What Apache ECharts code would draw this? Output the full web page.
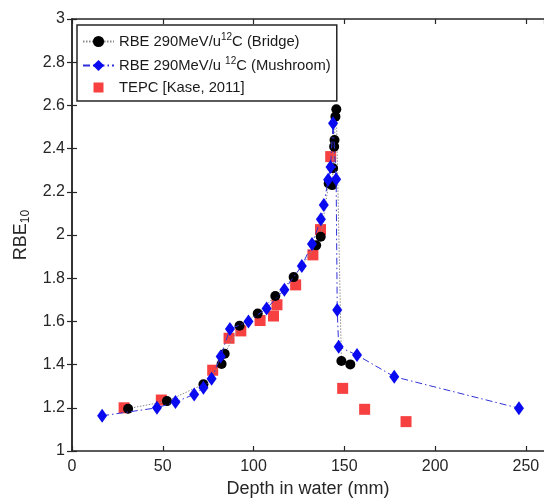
<!DOCTYPE html>
<html><head><meta charset="utf-8">
<script src="https://cdn.jsdelivr.net/npm/echarts@6/dist/echarts.min.js"></script>
<style>html,body{margin:0;padding:0;background:#fff}#c{width:544px;height:504px}</style>
</head><body><div id="c"></div>
<script>
const xTicks = [0, 50, 100, 150, 200, 250];
const yTicks = [1, 1.2, 1.4, 1.6, 1.8, 2, 2.2, 2.4, 2.6, 2.8, 3];
const seriesNames = ['Bridge', 'Mushroom', 'TEPC'];
const bridgeDepth = [30.9, 52.3, 72.4, 82.4, 84.1, 92.3, 102.3, 112.0, 122.1, 134.5, 137.0, 141.4, 143.3, 143.8, 144.4, 144.6, 145.1, 145.6, 148.4, 153.3];
const bridgeRBE   = [1.196, 1.231, 1.309, 1.403, 1.450, 1.580, 1.636, 1.718, 1.805, 1.952, 1.992, 2.239, 2.231, 2.309, 2.409, 2.440, 2.548, 2.582, 1.417, 1.401];
const mushDepth = [16.6, 46.8, 57.0, 67.3, 72.4, 76.9, 81.9, 87.0, 97.2, 107.2, 117.0, 126.6, 132.2, 137.1, 138.7, 141.1, 142.4, 143.8, 145.5, 146.1, 146.9, 157.0, 177.5, 246.2];
const mushRBE   = [1.163, 1.200, 1.227, 1.262, 1.293, 1.335, 1.438, 1.565, 1.600, 1.660, 1.747, 1.857, 1.958, 2.073, 2.139, 2.256, 2.315, 2.517, 2.258, 1.653, 1.483, 1.444, 1.344, 1.198];
const tepcDepth = [28.7, 49.2, 77.5, 86.5, 93.0, 103.6, 111.0, 112.9, 123.2, 132.7, 136.9, 142.5, 149.1, 161.2, 184.0];
const tepcRBE   = [1.200, 1.236, 1.374, 1.522, 1.556, 1.604, 1.625, 1.677, 1.769, 1.908, 2.025, 2.363, 1.290, 1.193, 1.136];

const zip = (a, b) => a.map((v, i) => [v, b[i]]);
const FONT = "'Liberation Sans', Arial, sans-serif";
const AX = '#262626';
const chart = echarts.init(document.getElementById('c'), null, {renderer: 'canvas'});

const legendText = {
  Bridge: 'RBE 290MeV/u{sup|12}C (Bridge)',
  Mushroom: 'RBE 290MeV/u {sup|12}C (Mushroom)',
  TEPC: 'TEPC [Kase, 2011]'
};

const hiddenAxis = (extra) => Object.assign({
  type: 'value', min: 0, max: 1,
  axisLine: {show: true, lineStyle: {color: AX, width: 1.5}},
  axisTick: {show: true, inside: true, length: 5, lineStyle: {color: AX, width: 1.2}},
  axisLabel: {show: false}, splitLine: {show: false}
}, extra);

chart.setOption({
  animation: false,
  textStyle: {fontFamily: FONT},
  grid: {left: 72, top: 19, width: 474, height: 432, containLabel: false},
  legend: {
    data: [
      {name: 'Bridge'},
      {name: 'Mushroom'},
      {name: 'TEPC', icon: 'path://M0,0M31,14M10.5,2h10v10h-10z'}
    ],
    symbolKeepAspect: true,
    orient: 'vertical', left: 77, top: 25,
    padding: [7, 6, 6, 5], itemGap: 7,
    itemWidth: 31, itemHeight: 14,
    borderColor: AX, borderWidth: 1.5, backgroundColor: '#fff',
    formatter: n => legendText[n],
    textStyle: {fontSize: 14.8, color: '#1a1a1a', fontFamily: FONT,
      rich: {sup: {fontSize: 10, verticalAlign: 'bottom', padding: [0, 0, 9, 0], fontFamily: FONT, color: '#1a1a1a'}}}
  },
  xAxis: [
    {type: 'value', min: 0, max: 260, interval: 50, position: 'bottom',
     name: 'Depth in water (mm)', nameLocation: 'middle', nameGap: 26,
     nameTextStyle: {fontSize: 18, color: AX, fontFamily: FONT},
     axisLine: {show: true, onZero: false, lineStyle: {color: AX, width: 1.5}},
     axisTick: {show: true, inside: true, length: 5, lineStyle: {color: AX, width: 1.2}},
     axisLabel: {fontSize: 16, color: AX, margin: 8, fontFamily: FONT,
       formatter: v => xTicks.includes(v) ? String(v) : '',
       showMaxLabel: false},
     splitLine: {show: false}},
    hiddenAxis({position: 'top', min: 0, max: 260, interval: 50, gridIndex: 0})
  ],
  yAxis: [
    {type: 'value', min: 1, max: 3, interval: 0.2, position: 'left',
     name: 'RBE{sub|10}', nameLocation: 'middle', nameGap: 40, nameRotate: 90,
     nameTextStyle: {fontSize: 18, color: AX, fontFamily: FONT,
       rich: {sub: {fontSize: 12, verticalAlign: 'top', padding: [10, 0, 0, 0], color: AX, fontFamily: FONT}}},
     axisLine: {show: true, onZero: false, lineStyle: {color: AX, width: 1.5}},
     axisTick: {show: true, inside: true, length: 5, lineStyle: {color: AX, width: 1.2}},
     axisLabel: {fontSize: 16, color: AX, margin: 7, fontFamily: FONT,
       formatter: v => { const t = yTicks.find(y => Math.abs(y - v) < 1e-6); return t === undefined ? '' : String(t); }},
     splitLine: {show: false}},
    hiddenAxis({position: 'right', min: 1, max: 3, interval: 0.2})
  ],
  series: [
    {name: 'Bridge', type: 'line', data: zip(bridgeDepth, bridgeRBE), z: 3,
     symbol: 'circle', symbolSize: 10, showAllSymbol: true,
     itemStyle: {color: '#000'},
     lineStyle: {color: '#8a8a8a', width: 1, type: [1.5, 1.5]}},
    {name: 'Mushroom', type: 'line', data: zip(mushDepth, mushRBE), z: 4,
     symbol: 'diamond', symbolSize: [10, 14], showAllSymbol: true,
     itemStyle: {color: '#0a0af0'},
     lineStyle: {color: '#3030d8', width: 1, type: [7, 3, 1.5, 3]}},
    {name: 'TEPC', type: 'scatter', data: zip(tepcDepth, tepcRBE), z: 2,
     symbol: 'rect', symbolSize: 11,
     itemStyle: {color: '#f51010'}}
  ]
});
</script></body></html>
